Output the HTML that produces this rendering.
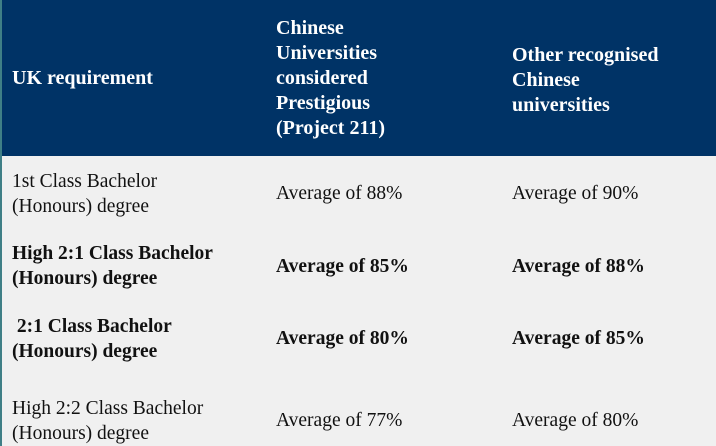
<!DOCTYPE html>
<html><head><meta charset="utf-8"><style>
html,body{margin:0;padding:0;width:716px;height:446px;overflow:hidden;background:#f0f0f0;font-family:"Liberation Serif",serif;color:#111;}
#hdr{position:absolute;left:0;top:0;width:716px;height:156px;background:#003366;}
#edge{position:absolute;left:0;top:0;width:2px;height:446px;background:#3f7f86;}
.t{position:absolute;font-size:19.5px;line-height:25px;white-space:nowrap;}
.h{color:#fff;font-weight:bold;font-size:20px;}
.b{font-weight:bold;}
</style></head><body>
<div id="hdr"></div>
<div id="edge"></div>
<div class="t h" style="left:12px;top:66px">UK requirement</div>
<div class="t h" style="left:276px;top:16px">Chinese<br>Universities<br>considered<br>Prestigious<br>(Project 211)</div>
<div class="t h" style="left:512px;top:43px">Other recognised<br>Chinese<br>universities</div>

<div class="t" style="left:12px;top:169px">1st Class Bachelor<br>(Honours) degree</div>
<div class="t" style="left:276px;top:181px">Average of 88%</div>
<div class="t" style="left:512px;top:181px">Average of 90%</div>

<div class="t b" style="left:12px;top:241px">High 2:1 Class Bachelor<br>(Honours) degree</div>
<div class="t b" style="left:276px;top:254px">Average of 85%</div>
<div class="t b" style="left:512px;top:254px">Average of 88%</div>

<div class="t b" style="left:12px;top:314px">&nbsp;2:1 Class Bachelor<br>(Honours) degree</div>
<div class="t b" style="left:276px;top:326px">Average of 80%</div>
<div class="t b" style="left:512px;top:326px">Average of 85%</div>

<div class="t" style="left:12px;top:396px">High 2:2 Class Bachelor<br>(Honours) degree</div>
<div class="t" style="left:276px;top:408px">Average of 77%</div>
<div class="t" style="left:512px;top:408px">Average of 80%</div>
</body></html>
